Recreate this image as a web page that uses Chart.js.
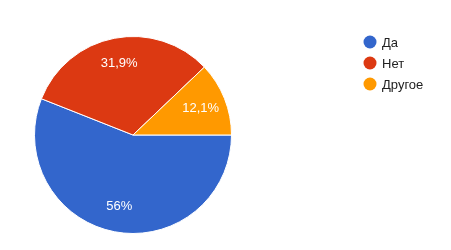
<!DOCTYPE html>
<html>
<head>
<meta charset="utf-8">
<script src="https://cdn.jsdelivr.net/npm/chart.js@4/dist/chart.umd.min.js"></script>
<style>
  html, body { margin: 0; padding: 0; background: #fff; }
  #pieChart { display: block; }
</style>
</head>
<body>
<canvas id="pieChart" width="451" height="250"></canvas>
<script>
// Answers and their share (percent)
const answers = ['Да', 'Нет', 'Другое'];
const shares = [56, 31.9, 12.1];
const shareLabels = ['56%', '31,9%', '12,1%'];
const sliceColors = ['#3366cc', '#dc3912', '#ff9900'];

const FONT = 'Arial, "Liberation Sans", sans-serif';

// Percent text inside the slices
const sliceText = {
    id: 'sliceText',
    afterDatasetsDraw(chart) {
        const ctx = chart.ctx;
        const meta = chart.getDatasetMeta(0);
        ctx.save();
        ctx.font = '13px ' + FONT;
        ctx.fillStyle = '#ffffff';
        ctx.textAlign = 'center';
        ctx.textBaseline = 'middle';
        meta.data.forEach(function(arc, i) {
            const p = arc.getProps(['x', 'y', 'startAngle', 'endAngle', 'outerRadius']);
            const mid = (p.startAngle + p.endAngle) / 2;
            const r = p.outerRadius * 0.74;
            ctx.fillText(shareLabels[i], p.x + Math.cos(mid) * r, p.y + Math.sin(mid) * r);
        });
        ctx.restore();
    }
};

// Legend on the right, drawn by hand to match spacing
const sideLegend = {
    id: 'sideLegend',
    afterDraw(chart) {
        const ctx = chart.ctx;
        ctx.save();
        ctx.font = '13px ' + FONT;
        ctx.textBaseline = 'middle';
        chart.data.labels.forEach(function(label, i) {
            const y = 42 + i * 21;
            ctx.beginPath();
            ctx.arc(370, y, 6.5, 0, Math.PI * 2);
            ctx.fillStyle = sliceColors[i];
            ctx.fill();
            ctx.fillStyle = '#222222';
            ctx.fillText(label, 382, y + 1);
        });
        ctx.restore();
    }
};

new Chart(document.getElementById('pieChart').getContext('2d'), {
    type: 'pie',
    data: {
        labels: answers,
        datasets: [{
            data: shares,
            backgroundColor: sliceColors,
            borderColor: '#ffffff',
            borderWidth: 1
        }]
    },
    options: {
        responsive: false,
        animation: false,
        rotation: 90,
        layout: { padding: { left: 34, top: 36, right: 219, bottom: 16 } },
        plugins: {
            legend: { display: false },
            tooltip: { enabled: false }
        }
    },
    plugins: [sliceText, sideLegend]
});
</script>
</body>
</html>
